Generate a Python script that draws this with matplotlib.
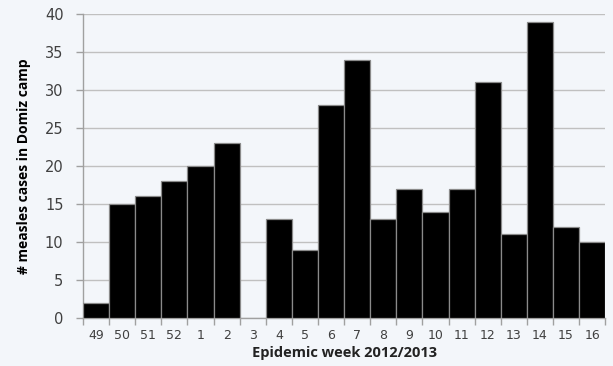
import matplotlib
matplotlib.use("Agg")
import matplotlib.pyplot as plt
import numpy as np

weeks = ["49", "50", "51", "52", "1", "2", "3", "4", "5", "6", "7", "8", "9", "10", "11", "12", "13", "14", "15", "16"]
cases = [2, 15, 16, 18, 20, 23, 0, 13, 9, 28, 34, 13, 17, 14, 17, 31, 11, 39, 12, 10]

bg = "#f3f6fa"
fig = plt.figure(figsize=(6.13, 3.66), dpi=100, facecolor=bg)
ax = fig.add_axes([0.1354, 0.131, 0.852, 0.831], facecolor=bg)

x = np.arange(len(weeks))
bars = ax.bar(x, cases, width=1.0, color="black", edgecolor="#8a8a8a", linewidth=0.9, zorder=3)
for b, v in zip(bars, cases):
    if v == 0:
        b.set_linewidth(0)

ax.set_xlim(-0.5, len(weeks) - 0.5)
ax.set_ylim(0, 40)
ax.set_yticks(np.arange(0, 41, 5))
ax.yaxis.grid(True, color="#c0c0c0", linewidth=1.0, zorder=0)
ax.set_axisbelow(True)

ax.set_xticks(x)
ax.set_xticklabels(weeks, fontsize=9, color="#404040", family="DejaVu Sans")
ax.set_xticks(np.arange(-0.5, len(weeks), 1), minor=True)
ax.tick_params(axis="x", which="major", length=0, pad=8)
ax.tick_params(axis="x", which="minor", length=5, color="#a0a0a0", width=1)
ax.tick_params(axis="y", length=5, color="#a0a0a0", width=1, labelsize=10.5, labelcolor="#404040", pad=9)

for s in ["top", "right"]:
    ax.spines[s].set_visible(False)
for s in ["left", "bottom"]:
    ax.spines[s].set_color("#a0a0a0")
    ax.spines[s].set_linewidth(1.0)

ax.set_ylabel("# measles cases in Domiz camp", fontsize=10, fontweight="bold",
              family=["Liberation Sans Narrow", "Open Sans", "DejaVu Sans"], labelpad=10)
ax.set_xlabel("Epidemic week 2012/2013", fontsize=10.5, fontweight="bold",
              family=["Open Sans", "DejaVu Sans"], labelpad=3, color="#222222")

fig.savefig("out.png", dpi=100, facecolor=bg)
